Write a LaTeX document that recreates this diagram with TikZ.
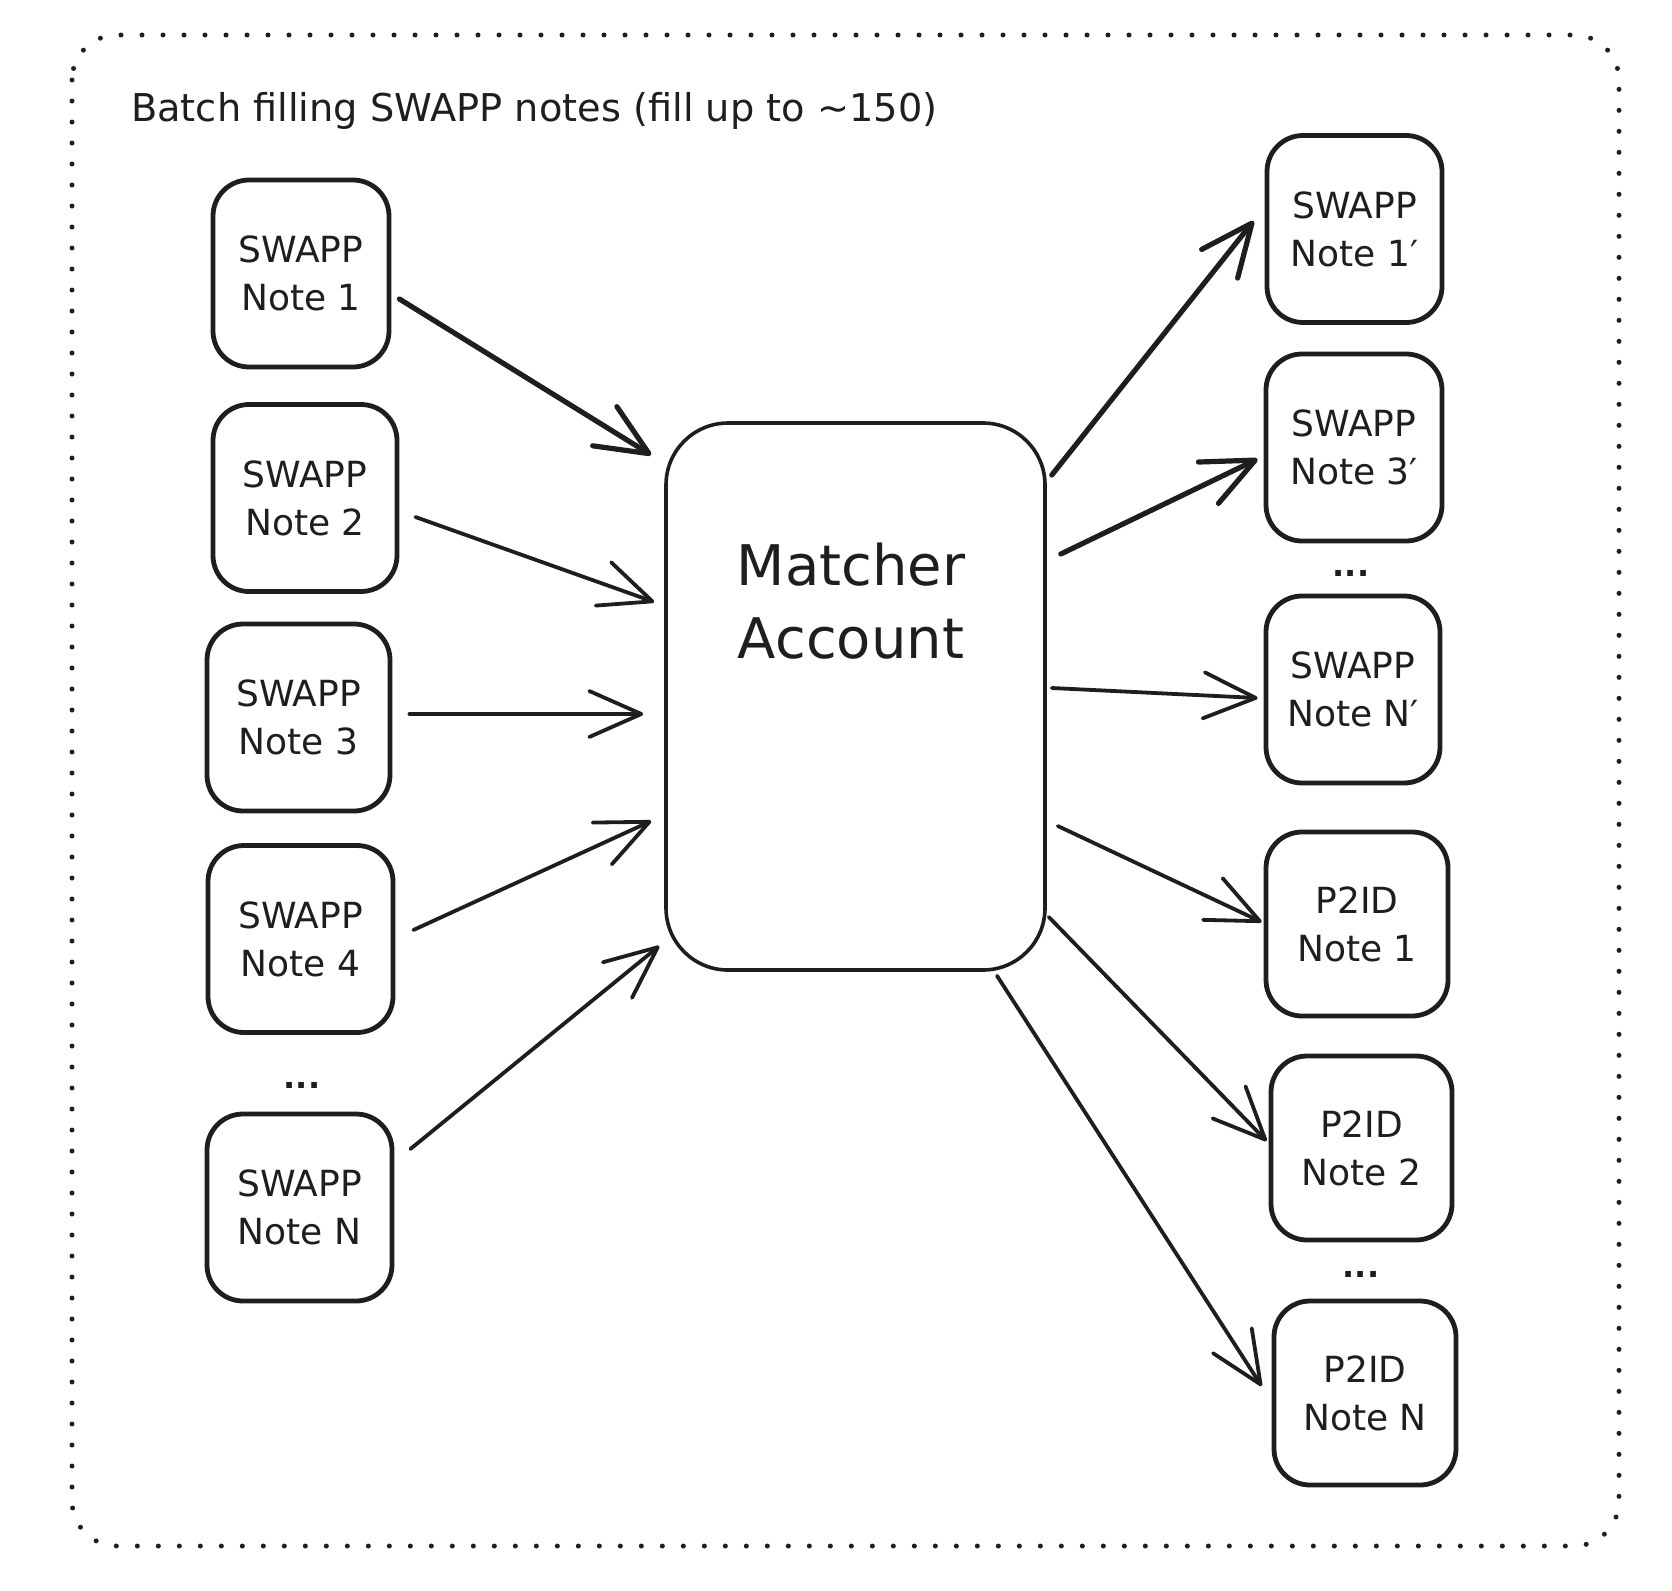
\documentclass[tikz,border=0pt]{standalone}
\usepackage{fontspec}
\setmainfont{DejaVu Sans}
\usetikzlibrary{arrows.meta,calc}
\definecolor{ink}{HTML}{1E1E1E}
\begin{document}
\begin{tikzpicture}[x=1pt,y=-1pt,
  note/.style={draw=ink, line width=4.8pt, rounded corners=36pt, minimum height=187pt,
    align=center, text=ink, inner sep=0pt, font=\fontsize{36}{48}\selectfont},
  arr/.style={draw=ink, line width=3.8pt, line cap=round,
    -{Straight Barb[length=52pt,width=46pt,round]}},
  heavy/.style={arr, line width=5.2pt},
  dots/.style={text=ink, font=\fontsize{32}{40}\selectfont\bfseries, anchor=base, inner sep=0pt},
]
\useasboundingbox (0,0) rectangle (1672,1590);
% frame
\draw[ink, line width=5pt, line cap=round, dash pattern=on 0pt off 21pt, rounded corners=45pt]
  (72,35) rectangle (1619,1546);
\node[anchor=base west, text=ink, inner sep=0pt, font=\fontsize{38.3}{44}\selectfont] (title) at (131,121)
  {Batch filling SWAPP notes (fill up to \textasciitilde150)};

% left column
\node[note, minimum width=176pt] (s1) at (301,273.5) {SWAPP\\Note 1};
\node[note, minimum width=184pt] (s2) at (305,498) {SWAPP\\Note 2};
\node[note, minimum width=183pt] (s3) at (298.5,717.5) {SWAPP\\Note 3};
\node[note, minimum width=185pt] (s4) at (300.5,939) {SWAPP\\Note 4};
\node[dots] (ldots) at (302,1088) {...};
\node[note, minimum width=185pt] (sN) at (299.5,1207.5) {SWAPP\\Note N};

% matcher
\node[draw=ink, line width=3.6pt, rounded corners=62pt, minimum width=379pt, minimum height=547pt, inner sep=0pt] (m) at (855.5,696.5) {};
\node[align=center, text=ink, inner sep=0pt, font=\fontsize{56}{73}\selectfont] (mt) at (851,601) {Matcher\\Account};

% right column
\node[note, minimum width=175pt] (r1) at (1354.5,229) {SWAPP\\Note 1′};
\node[note, minimum width=176pt] (r3) at (1354,447.5) {SWAPP\\Note 3′};
\node[dots] (rdots1) at (1351,576) {...};
\node[note, minimum width=174pt] (rN) at (1353,689.5) {SWAPP\\Note N′};
\node[note, minimum width=182pt, minimum height=184pt] (p1) at (1357,924) {P2ID\\Note 1};
\node[note, minimum width=181pt, minimum height=184pt] (p2) at (1361.5,1148) {P2ID\\Note 2};
\node[dots] (rdots2) at (1361,1277) {...};
\node[note, minimum width=182pt, minimum height=184pt] (pN) at (1365,1393) {P2ID\\Note N};

% inputs
\draw[heavy] ([shift={(8,25.5)}]s1.east) -- ([shift={(-13,-241.5)}]m.west);
\draw[arr] ([shift={(16,19)}]s2.east) -- ([shift={(-10,-94.5)}]m.west);
\draw[arr] ([shift={(17,-3.5)}]s3.east) -- ([shift={(-21,17.5)}]m.west);
\draw[arr] ([shift={(18,-9)}]s4.east) -- ([shift={(-13,124.5)}]m.west);
\draw[arr] ([shift={(16,-58.5)}]sN.east) -- ([shift={(-5,249.5)}]m.west);

% outputs
\draw[heavy] ([shift={(5,-221.5)}]m.east) -- ([shift={(-11,-8)}]r1.west);
\draw[heavy] ([shift={(14,-142.5)}]m.east) -- ([shift={(-6,11.5)}]r3.west);
\draw[arr] ([shift={(5,-8.5)}]m.east) -- ([shift={(-6,8.5)}]rN.west);
\draw[arr] ([shift={(11,129.5)}]m.east) -- ([shift={(-2,-2)}]p1.west);
\draw[arr] ([shift={(2,220.5)}]m.east) -- ([shift={(-2,-7)}]p2.west);
\draw[arr] ([shift={(141.5,4)}]m.south) -- ([shift={(-10,-7)}]pN.west);
\end{tikzpicture}
\end{document}
